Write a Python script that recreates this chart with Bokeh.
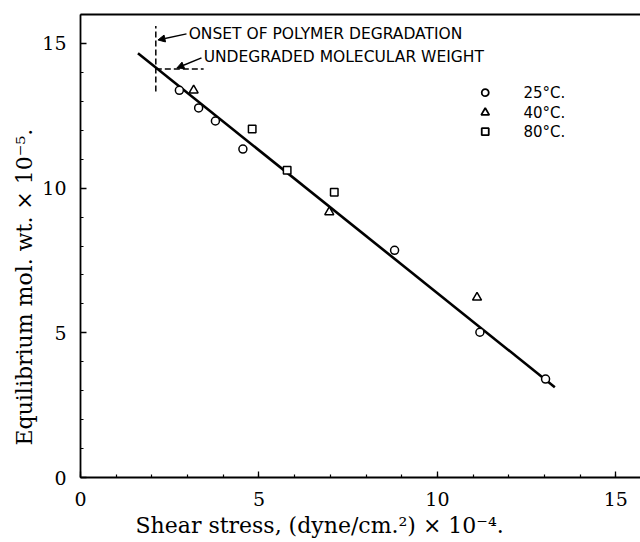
from bokeh.plotting import figure
from bokeh.models import (LinearAxis, SingleIntervalTicker, FixedTicker, Range1d,
                          Arrow, NormalHead, Title)
from bokeh.core.properties import value
from bokeh.embed import file_html
from bokeh.resources import INLINE

# ---- data ----
x25 = [2.77, 3.31, 3.78, 4.55, 8.80, 11.19, 13.03]
y25 = [13.38, 12.77, 12.32, 11.35, 7.85, 5.02, 3.40]
x40 = [3.17, 6.97, 11.11]
y40 = [13.38, 9.17, 6.22]
x80 = [4.81, 5.79, 7.11]
y80 = [12.04, 10.62, 9.86]
fit_x = [1.61, 13.29]
fit_y = [14.66, 3.12]
onset_x = [2.11, 2.11]
onset_y = [13.34, 15.6]
undeg_x = [2.11, 3.45]
undeg_y = [14.12, 14.12]
legend_labels = ["25°C.", "40°C.", "80°C."]
legend_marker_x = [11.34, 11.34, 11.34]
legend_y = [13.30, 12.61, 11.95]
legend_text_x = [12.41, 12.41, 12.41]
notes = ["ONSET OF POLYMER DEGRADATION", "UNDEGRADED MOLECULAR WEIGHT"]
note_x = [3.03, 3.45]
note_y = [15.33, 14.53]
arrow_start_x = [2.97, 3.39]
arrow_start_y = [15.33, 14.50]
arrow_end_x = [2.17, 2.70]
arrow_end_y = [15.12, 14.15]
x_label = "Shear stress, (dyne/cm.²) × 10⁻⁴."
y_label = "Equilibrium mol. wt. × 10⁻⁵."

serif = "DejaVu Serif"
sans = "DejaVu Sans"

p = figure(width=640, height=542, frame_width=560, frame_height=463,
           x_range=Range1d(0, 15.69), y_range=Range1d(0, 16.0),
           output_backend="svg", toolbar_location=None,
           x_axis_location=None, y_axis_location=None,
           min_border_left=80, min_border_right=0, min_border_top=14, min_border_bottom=65)
p.outline_line_color = None
p.grid.visible = False
p.background_fill_color = "white"
p.border_fill_color = "white"

def style_axis(ax, tick_standoff):
    ax.ticker = SingleIntervalTicker(interval=5, num_minor_ticks=5)
    ax.major_label_text_font = serif
    ax.major_label_text_font_size = "19px"
    ax.major_label_text_color = "black"
    ax.major_label_standoff = tick_standoff
    ax.axis_line_width = 1.8
    ax.axis_line_color = "black"
    ax.major_tick_in = 6
    ax.major_tick_out = 0
    ax.minor_tick_in = 3
    ax.minor_tick_out = 0
    ax.major_tick_line_width = 1.3
    ax.minor_tick_line_width = 1.2
    ax.major_tick_line_color = "black"
    ax.minor_tick_line_color = "black"

xa = LinearAxis()
style_axis(xa, 14)
p.add_layout(xa, "below")
ya = LinearAxis()
style_axis(ya, 14)
ya.major_label_orientation = "horizontal"
p.add_layout(ya, "left")

top = LinearAxis(ticker=FixedTicker(ticks=[]), major_tick_in=0, major_tick_out=0,
                 minor_tick_in=0, minor_tick_out=0, major_label_standoff=0,
                 axis_line_width=2.2, axis_line_color="black")
p.add_layout(top, "above")

# axis titles
p.add_layout(Title(text=x_label, align="left", offset=55, text_font=serif,
                   text_font_size="22px", text_font_style="normal", text_color="black",
                   standoff=4), "below")
p.add_layout(Title(text=y_label, align="left", offset=32, text_font=serif,
                   text_font_size="22px", text_font_style="normal", text_color="black",
                   standoff=6), "left")

# fit line and dashed markers
p.line(fit_x, fit_y, line_color="black", line_width=2.6)
p.line(onset_x, onset_y, line_color="black", line_width=1.5, line_dash="6 3")
p.line(undeg_x, undeg_y, line_color="black", line_width=1.5, line_dash="6 3")

# data
p.scatter(x25, y25, marker="circle", size=8, line_color="black", line_width=1.5, fill_color="white")
p.scatter(x40, y40, marker="triangle", size=9, line_color="black", line_width=1.5, fill_color="white")
p.scatter(x80, y80, marker="square", size=7.5, line_color="black", line_width=1.5, fill_color="white")

# legend
p.scatter(legend_marker_x[0:1], legend_y[0:1], marker="circle", size=7, line_color="black", line_width=1.8, fill_color="white")
p.scatter(legend_marker_x[1:2], legend_y[1:2], marker="triangle", size=8, line_color="black", line_width=1.8, fill_color="white")
p.scatter(legend_marker_x[2:3], legend_y[2:3], marker="square", size=7, line_color="black", line_width=1.8, fill_color="white")
p.text(legend_text_x, legend_y, text=legend_labels, text_font=value(sans), text_font_size="15px",
       text_baseline="middle", text_align="left", text_color="black")

# annotations
p.text(note_x, note_y, text=notes, text_font=value(sans), text_font_size="15.5px",
       text_baseline="middle", text_align="left", text_color="black")
for i in range(len(notes)):
    p.add_layout(Arrow(end=NormalHead(size=7, fill_color="black", line_color="black"),
                       x_start=arrow_start_x[i], y_start=arrow_start_y[i],
                       x_end=arrow_end_x[i], y_end=arrow_end_y[i],
                       line_color="black", line_width=1.5))

open("out.html", "w").write(file_html(p, INLINE))
